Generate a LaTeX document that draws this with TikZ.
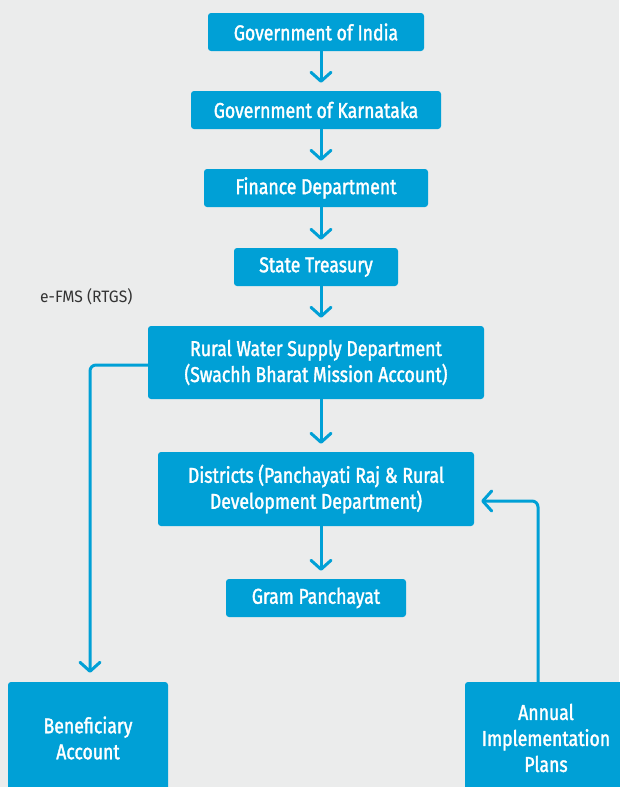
\documentclass[tikz,border=0pt]{standalone}
\usepackage{fontspec}
\setmainfont{Fira Sans}[FakeStretch=0.82, FakeBold=1.6]
\newfontfamily\labelfont{Fira Sans}[FakeStretch=0.95]
\usetikzlibrary{arrows.meta}
\definecolor{bg}{HTML}{EBECEC}
\definecolor{boxblue}{HTML}{00A0D6}
\definecolor{darktext}{HTML}{333333}
\tikzset{
  box/.style={fill=boxblue, rounded corners=3pt, text=white, align=center,
    inner sep=0pt, font=\fontsize{21.5}{26}\selectfont},
  arr/.style={draw=boxblue, line width=3pt, line cap=round, line join=round,
    -{Straight Barb[length=9pt,width=20pt,line cap=round,line join=round]}},
}
\begin{document}
\begin{tikzpicture}[x=1pt,y=-1pt]
\fill[bg] (0,0) rectangle (619,787);
\useasboundingbox (0,0) rectangle (619,787);
\node[box, minimum width=216pt, minimum height=38pt] (gi) at (316,32) {Government of India};
\node[box, minimum width=250pt, minimum height=38pt] (gk) at (316,110) {Government of Karnataka};
\node[box, minimum width=224pt, minimum height=38pt] (fd) at (316,188) {Finance Department};
\node[box, minimum width=164pt, minimum height=38pt] (st) at (316,267) {State Treasury};
\node[box, minimum width=336pt, minimum height=73pt] (rw) at (316,362.5) {Rural Water Supply Department\\(Swachh Bharat Mission Account)};
\node[box, minimum width=316pt, minimum height=74pt] (ds) at (316,489) {Districts (Panchayati Raj \& Rural\\Development Department)};
\node[box, minimum width=180pt, minimum height=38pt] (gp) at (316,598) {Gram Panchayat};
\node[box, minimum width=160pt, minimum height=112pt] (ben) at (88,738) {Beneficiary\\Account};
\node[box, minimum width=162pt, minimum height=112pt] (ann) at (546,738) {Annual\\Implementation\\Plans};
\node[text=darktext, font=\labelfont\fontsize{16.5}{20}\selectfont, anchor=west, inner sep=0pt] (efms) at (40,297) {e-FMS (RTGS)};
\coordinate (ax) at (321,0);
\coordinate (lx) at (90,0);
\coordinate (rx) at (538,0);
\draw[arr, shorten >=8pt] (gi.south -| ax) -- (gk.north -| ax);
\draw[arr, shorten >=8pt] (gk.south -| ax) -- (fd.north -| ax);
\draw[arr, shorten >=8pt] (fd.south -| ax) -- (st.north -| ax);
\draw[arr, shorten >=8pt] (st.south -| ax) -- (rw.north -| ax);
\draw[arr, shorten >=8pt] (rw.south -| ax) -- (ds.north -| ax);
\draw[arr, shorten >=8pt] (ds.south -| ax) -- (gp.north -| ax);
\draw[arr, rounded corners=6pt, shorten >=9pt] ([yshift=-2.5pt]rw.west) -| (ben.north -| lx);
\draw[arr, rounded corners=6pt, shorten >=7pt] (ann.north -| rx) |- ([yshift=-12pt]ds.east);
\end{tikzpicture}
\end{document}
